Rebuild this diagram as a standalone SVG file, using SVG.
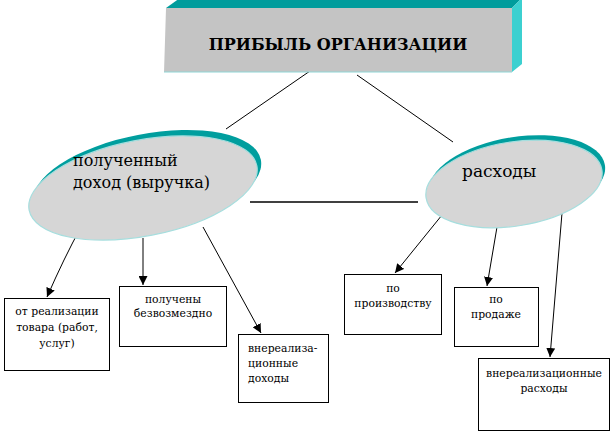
<svg xmlns="http://www.w3.org/2000/svg" width="615" height="433" viewBox="0 0 615 433">
<style>
text{fill:#000;font-family:'DejaVu Serif','Liberation Serif',serif}
.b{font-size:10.8px}
.bx{fill:#fff;stroke:#000;stroke-width:1}
.ln{stroke:#000;stroke-width:1;fill:none}
.ar{stroke:#000;stroke-width:1;fill:none;marker-end:url(#ah)}
.face{fill:#d6d6d6;stroke:#a6dede;stroke-width:1.2}
.side{fill:#009e9e}
</style>
<defs>
<marker id="ah" viewBox="0 0 10 10" refX="10" refY="5" markerWidth="9" markerHeight="9" markerUnits="userSpaceOnUse" orient="auto">
<path d="M0,0 L10,5 L0,10 z" fill="#000"/>
</marker>
</defs>
<rect width="615" height="433" fill="#fff"/>
<g id="connectors">
<line class="ln" x1="310" y1="71" x2="226" y2="129"/>
<line class="ln" x1="357" y1="75" x2="453" y2="142"/>
<line class="ln" x1="250" y1="202" x2="418" y2="202" style="stroke-width:1.3"/>
<path class="ar" d="M81,227 Q64,258 47,297"/>
<line class="ar" x1="143" y1="238" x2="143" y2="285"/>
<line class="ar" x1="203" y1="227" x2="261" y2="333"/>
<line class="ar" x1="442" y1="215" x2="395" y2="273"/>
<line class="ar" x1="497" y1="227" x2="487" y2="286"/>
<line class="ar" x1="562" y1="213" x2="550" y2="357"/>
</g>
<g id="title">
<polygon points="166,8 180,-2 522,-2 512,8" fill="#009c9c"/>
<polygon points="512,8 522,-2 522,64 512,72" fill="#3cd0d0"/>
<polygon points="166,8 512,8 512,72 164,72" fill="#c4c4c4"/>
<line x1="164" y1="72" x2="512" y2="72" stroke="#8fd6d6" stroke-width="1.2"/>
<text x="338" y="50" font-size="16" font-weight="bold" text-anchor="middle">ПРИБЫЛЬ ОРГАНИЗАЦИИ</text>
</g>
<g id="income">
<ellipse class="side" cx="147" cy="182" rx="116" ry="48" transform="rotate(-11 147 182)"/>
<ellipse class="face" cx="143" cy="188" rx="116" ry="48" transform="rotate(-11 143 188)"/>
<text x="73" y="166" font-size="16">полученный</text>
<text x="73" y="188" font-size="16">доход (выручка)</text>
</g>
<g id="expenses">
<ellipse class="side" cx="517" cy="179" rx="89" ry="42" transform="rotate(-9 517 179)"/>
<ellipse class="face" cx="514" cy="184" rx="89" ry="42" transform="rotate(-9 514 184)"/>
<text x="462" y="177" font-size="17">расходы</text>
</g>
<g id="box1">
<rect class="bx" x="4.5" y="298.5" width="105" height="72"/>
<text class="b" text-anchor="middle"><tspan x="57" y="315">от реализации</tspan><tspan x="57" y="331">товара (работ,</tspan><tspan x="57" y="347">услуг)</tspan></text>
</g>
<g id="box2">
<rect class="bx" x="119.5" y="286.5" width="107" height="60"/>
<text class="b" text-anchor="middle"><tspan x="173" y="303">получены</tspan><tspan x="173" y="317">безвозмездно</tspan></text>
</g>
<g id="box3">
<rect class="bx" x="238.5" y="334.5" width="90" height="68"/>
<text class="b"><tspan x="248" y="352">внереализа-</tspan><tspan x="248" y="367">ционные</tspan><tspan x="248" y="382">доходы</tspan></text>
</g>
<g id="box4">
<rect class="bx" x="344.5" y="274.5" width="97" height="60"/>
<text class="b" text-anchor="middle"><tspan x="393" y="292">по</tspan><tspan x="393" y="307">производству</tspan></text>
</g>
<g id="box5">
<rect class="bx" x="454.5" y="287.5" width="84" height="59"/>
<text class="b" text-anchor="middle"><tspan x="496" y="303">по</tspan><tspan x="496" y="318">продаже</tspan></text>
</g>
<g id="box6">
<rect class="bx" x="478.5" y="358.5" width="131" height="72"/>
<text class="b" text-anchor="middle"><tspan x="544" y="377">внереализационные</tspan><tspan x="544" y="392">расходы</tspan></text>
</g>
</svg>
